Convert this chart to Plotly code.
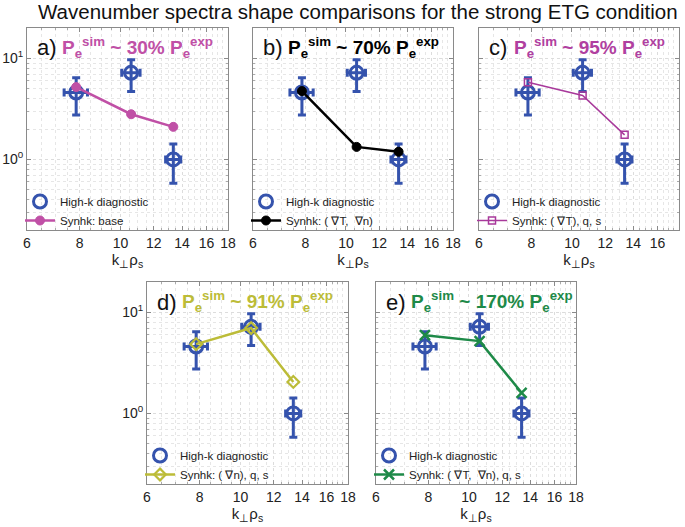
import plotly.graph_objects as go

# ---------------- data ----------------
k_vals = [7.85, 10.6, 13.35]
diag_power = [4.6, 7.2, 1.0]
diag_err_power = [1.85, 2.5, 0.42]
diag_err_k = [0.5, 0.53, 0.55]

sim_a = [5.2, 2.8, 2.1]
sim_b = [4.75, 1.33, 1.19]
sim_c = [5.8, 4.3, 1.75]
sim_d = [4.85, 7.0, 2.05]
sim_e = [5.95, 5.2, 1.6]

panel_letters = ["a)", "b)", "c)", "d)", "e)"]
percent_labels = ["30%", "70%", "95%", "91%", "170%"]
sim_names = ["Synhk: base", "Synhk: ( \u2207T,  \u2207n)", "Synhk: ( \u2207T), q, s",
             "Synhk: ( \u2207n), q, s", "Synhk: ( \u2207T,  \u2207n), q, s"]
diag_name = "High-k diagnostic"

x_ticks = [6, 8, 10, 12, 14, 16, 18]
x_minor = [6.5, 7, 7.5, 8.5, 9, 9.5, 10.5, 11, 11.5, 12.5, 13, 13.5, 14.5, 15, 15.5, 16.5, 17, 17.5]
y_ticks = [1, 10]
y_ticktext = ["10<sup>0</sup>", "10<sup>1</sup>"]
y_minor = [0.2, 0.3, 0.4, 0.5, 0.6, 0.7, 0.8, 0.9, 2, 3, 4, 5, 6, 7, 8, 9, 20]

# ---------------- styling ----------------
W, H = 685, 527
BLUE = "#3553ad"
sim_data = [sim_a, sim_b, sim_c, sim_d, sim_e]
sim_colors = ["#c050a6", "#000000", "#a8399b", "#bcbc38", "#1e8a48"]
title_colors = ["#c050a6", "#000000", "#b040a0", "#bcbc38", "#1e8a48"]
sim_symbols = ["circle", "circle", "square-open", "diamond-open", "x-thin-open"]
sim_msize = [9, 9, 7, 9, 10]
sim_lw = [2.5, 2.5, 1.5, 2.5, 2.5]
sim_mlw = [1, 1, 1.5, 2.2, 2.5]

# panel boxes in pixels: left, top, right, bottom
boxes = [(27, 28, 228, 230), (253, 28, 453, 230), (479, 28, 679, 230),
         (147, 282, 348, 484), (376, 282, 576, 484)]

FONT = "Liberation Sans, Arial, sans-serif"
fig = go.Figure()
layout = dict(width=W, height=H, margin=dict(l=0, r=0, t=0, b=0, autoexpand=False),
              paper_bgcolor="white", plot_bgcolor="white",
              font=dict(family=FONT, size=13, color="#222"))
annotations = []

for i in range(5):
    L, T, R, B = boxes[i]
    sfx = "" if i == 0 else str(i + 1)
    xa, ya = "x" + sfx, "y" + sfx
    lg = "legend" + sfx
    fig.add_trace(go.Scatter(
        x=k_vals, y=diag_power, mode="markers", name=diag_name,
        xaxis=xa, yaxis=ya, legend=lg,
        marker=dict(symbol="circle-open", size=13, color=BLUE, line=dict(width=3, color=BLUE)),
        error_y=dict(type="data", array=diag_err_power, color=BLUE, thickness=3, width=4),
        error_x=dict(type="data", array=diag_err_k, color=BLUE, thickness=3, width=4),
    ))
    fig.add_trace(go.Scatter(
        x=k_vals, y=sim_data[i], mode="lines+markers", name=sim_names[i],
        xaxis=xa, yaxis=ya, legend=lg,
        line=dict(color=sim_colors[i], width=sim_lw[i]),
        marker=dict(symbol=sim_symbols[i], size=sim_msize[i], color=sim_colors[i],
                    line=dict(width=sim_mlw[i], color=sim_colors[i])),
    ))
    xd = [L / W, R / W]
    yd = [1 - B / H, 1 - T / H]
    axcommon = dict(showline=True, linecolor="#8a8a8a", linewidth=1, mirror="allticks",
                    ticks="inside", ticklen=4, tickcolor="#8a8a8a", automargin=False,
                    showgrid=True, gridcolor="#dcdcdc", griddash="dot", gridwidth=1,
                    zeroline=False, tickfont=dict(size=14, color="#222"))
    layout["xaxis" + sfx] = dict(
        type="log", range=[0.7781513, 1.2552725], domain=xd, anchor=ya,
        tickmode="array", tickvals=x_ticks, ticktext=[str(v) for v in x_ticks],
        minor=dict(tickvals=x_minor, ticks="inside", ticklen=2, tickcolor="#aaaaaa",
                   showgrid=True, gridcolor="#e6e6e6", griddash="dot"),
        title=dict(text="k<sub>\u22a5</sub>\u03c1<sub>s</sub>", font=dict(size=15, color="#222"), standoff=2),
        **axcommon)
    layout["yaxis" + sfx] = dict(
        type="log", range=[-0.69897, 1.30103], domain=yd, anchor=xa,
        tickmode="array", tickvals=y_ticks, ticktext=y_ticktext,
        showticklabels=(i in (0, 3)),
        minor=dict(tickvals=y_minor, ticks="inside", ticklen=2, tickcolor="#aaaaaa",
                   showgrid=True, gridcolor="#e6e6e6", griddash="dot"),
        **axcommon)
    layout[lg] = dict(x=(L - 7) / W, y=1 - (B + 5) / H, xanchor="left", yanchor="bottom",
                      bgcolor="rgba(255,255,255,0)", borderwidth=0,
                      font=dict(size=11.5, color="#222"), tracegroupgap=0)
    # panel labels
    annotations.append(dict(x=(L + 8) / W, y=1 - (T + 20) / H, xref="paper", yref="paper",
                            xanchor="left", yanchor="middle", showarrow=False,
                            text=panel_letters[i], font=dict(size=22, color="#111")))
    annotations.append(dict(x=(L + 33) / W, y=1 - (T + 19) / H, xref="paper", yref="paper",
                            xanchor="left", yanchor="middle", showarrow=False,
                            text="<b>P<sub>e</sub><sup>sim</sup> ~ " + percent_labels[i]
                                 + " P<sub>e</sub><sup>exp</sup></b>",
                            font=dict(size=19, color=title_colors[i])))

annotations.append(dict(x=358 / W, y=1 - 11 / H, xref="paper", yref="paper",
                        xanchor="center", yanchor="middle", showarrow=False,
                        text="Wavenumber spectra shape comparisons for the strong ETG condition",
                        font=dict(size=20.5, color="#111")))
layout["annotations"] = annotations
layout["showlegend"] = True
fig.update_layout(**layout)
fig.write_html("out.html", config={"displayModeBar": False},
               post_script="document.body.style.margin='0px';document.body.style.overflow='hidden';")
